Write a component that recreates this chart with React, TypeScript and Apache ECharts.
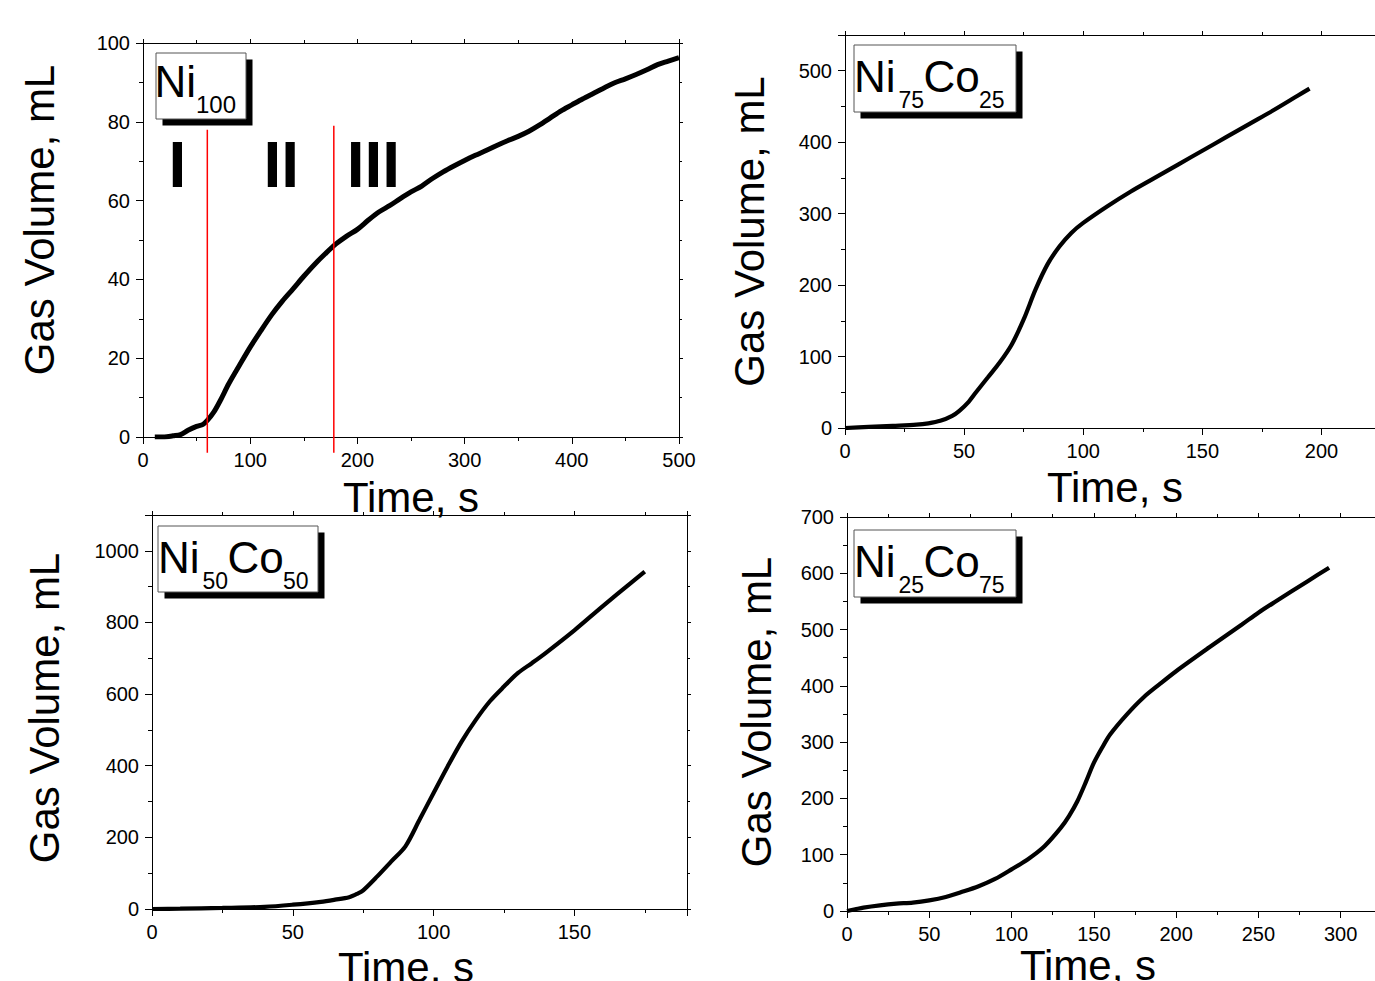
import React, { useEffect, useRef } from "react";
import * as echarts from "echarts";

const FONT = "'Liberation Sans', Arial, Helvetica, sans-serif";

// ---------- Panel 1: Ni100 ----------
const ni100Time = [11, 20, 28, 35, 42, 50, 56, 60, 66, 72, 80, 90, 100, 110, 120, 130, 140, 150, 160, 170, 180, 190, 200, 210, 220, 230, 240, 250, 260, 270, 280, 290, 300, 310, 320, 330, 340, 350, 360, 370, 380, 390, 400, 410, 420, 430, 440, 450, 460, 470, 480, 490, 500];
const ni100Volume = [0, 0, 0.3, 0.6, 1.7, 2.7, 3.2, 4.2, 6.3, 9.2, 13.5, 18.2, 22.8, 27, 31, 34.5, 37.6, 40.8, 43.8, 46.5, 49, 51, 52.7, 55, 57.1, 58.7, 60.5, 62.2, 63.7, 65.6, 67.3, 68.8, 70.2, 71.5, 72.7, 74, 75.2, 76.3, 77.6, 79.2, 81, 82.8, 84.3, 85.8, 87.2, 88.6, 89.9, 90.9, 92, 93.2, 94.5, 95.4, 96.3];
const stageBoundaryTime = [60, 178];
const stageBoundaryTop = [78, 79];
const stageBoundaryBottom = -4;
const stageLabels = ["I", "II", "III"];
const stageLabelTime = [32, 129, 215];
const stageLabelVolume = 69;

// ---------- Panel 2: Ni75Co25 ----------
const ni75Time = [0, 10, 20, 30, 35, 40, 45, 48, 52, 55, 60, 65, 70, 75, 80, 85, 90, 95, 100, 110, 120, 130, 140, 150, 160, 170, 180, 190, 195];
const ni75Volume = [0, 1.5, 3, 4.6, 6.5, 10, 17, 24, 37, 50, 71, 92, 117, 152, 194, 229, 254, 273, 287, 310, 331, 350, 369, 388, 407, 426, 445, 465, 475];

// ---------- Panel 3: Ni50Co50 ----------
const ni50Time = [0, 10, 25, 40, 50, 60, 65, 70, 73, 75, 80, 85, 90, 95, 100, 105, 110, 115, 120, 125, 130, 135, 140, 150, 160, 170, 175];
const ni50Volume = [0, 1, 3, 6, 12, 20, 26, 33, 43, 52, 91, 133, 175, 249, 324, 398, 468, 528, 580, 621, 659, 687, 716, 778, 845, 910, 942];

// ---------- Panel 4: Ni25Co75 ----------
const ni25Time = [0, 5, 10, 20, 30, 40, 50, 60, 70, 80, 90, 100, 110, 120, 130, 135, 140, 145, 150, 155, 160, 170, 180, 190, 200, 220, 240, 250, 260, 280, 293];
const ni25Volume = [0, 3, 6, 10, 13, 15, 19, 25, 34, 44, 57, 74, 92, 115, 148, 169, 195, 228, 263, 290, 314, 349, 379, 403, 426, 468, 509, 530, 549, 586, 610];

// axis settings per panel
const xMaxes = [500, 225, 190, 330];
const xIntervals = [100, 50, 50, 50];
const yMaxes = [100, 550, 1100, 700];
const yIntervals = [20, 100, 200, 100];

const xTitle = "Time, s";
const yTitle = "Gas Volume, mL";

const zip = (a: number[], b: number[]) => a.map((v, i) => [v, b[i]]);

const grids = [
  { left: 143, top: 43, width: 536, height: 394 },
  { left: 845, top: 35, width: 536, height: 393 },
  { left: 152, top: 515, width: 535, height: 394 },
  { left: 847, top: 517, width: 543, height: 394 },
];

const AX = "#000";
const plainNumber = (v: number) => String(v);

function makeAxes(i: number) {
  const common = { gridIndex: i, type: "value" as const, min: 0 };
  const labelBase = { show: true, margin: 13, fontSize: 20, fontFamily: FONT, color: "#000", formatter: plainNumber, showMinLabel: true };
  const xb = {
    ...common,
    max: xMaxes[i],
    interval: xIntervals[i],
    position: "bottom",
    axisLine: { show: true, onZero: false, lineStyle: { color: AX, width: 1 } },
    axisTick: { show: true, inside: false, length: 7, lineStyle: { color: AX, width: 1 } },
    minorTick: { show: true, splitNumber: 2, length: 4, lineStyle: { color: AX, width: 1 } },
    splitLine: { show: false },
    minorSplitLine: { show: false },
    axisLabel: { ...labelBase, showMaxLabel: xMaxes[i] % xIntervals[i] === 0 },
  };
  const xt = {
    ...common,
    max: xMaxes[i],
    interval: xIntervals[i],
    position: "top",
    axisLine: { show: true, onZero: false, lineStyle: { color: AX, width: 1 } },
    axisTick: { show: true, inside: false, length: 4, lineStyle: { color: AX, width: 1 } },
    minorTick: { show: true, splitNumber: 2, length: 3, lineStyle: { color: AX, width: 1 } },
    splitLine: { show: false },
    axisLabel: { show: false },
  };
  const yl = {
    ...common,
    max: yMaxes[i],
    interval: yIntervals[i],
    position: "left",
    axisLine: { show: true, onZero: false, lineStyle: { color: AX, width: 1 } },
    axisTick: { show: true, inside: false, length: 7, lineStyle: { color: AX, width: 1 } },
    minorTick: { show: true, splitNumber: 2, length: 4, lineStyle: { color: AX, width: 1 } },
    splitLine: { show: false },
    minorSplitLine: { show: false },
    axisLabel: { ...labelBase, showMaxLabel: yMaxes[i] % yIntervals[i] === 0 },
  };
  const yr = {
    ...common,
    max: yMaxes[i],
    interval: yIntervals[i],
    position: "right",
    axisLine: { show: true, onZero: false, lineStyle: { color: AX, width: 1 } },
    axisTick: { show: true, inside: false, length: 4, lineStyle: { color: AX, width: 1 } },
    minorTick: { show: true, splitNumber: 2, length: 3, lineStyle: { color: AX, width: 1 } },
    splitLine: { show: false },
    axisLabel: { show: false },
  };
  return { x: [xb, xt], y: [yl, yr] };
}

type Part = { text: string; dx: number; dy: number; size: number };
function legendBox(bx: number, by: number, w: number, h: number, parts: Part[]) {
  const children: any[] = [
    { type: "rect", shape: { x: bx + 6.5, y: by + 6.5, width: w, height: h }, style: { fill: "#000" } },
    { type: "rect", shape: { x: bx, y: by, width: w, height: h }, style: { fill: "#fff", stroke: "#555", lineWidth: 1 } },
  ];
  parts.forEach((p) => {
    children.push({
      type: "text",
      x: bx + p.dx,
      y: by + p.dy,
      style: {
        text: p.text,
        fontSize: p.size,
        fontFamily: FONT,
        fill: "#000",
        align: "left",
        verticalAlign: "middle",
        textAlign: "left",
        textVerticalAlign: "middle",
      },
    });
  });
  return { type: "group", children };
}

function coPartsFor(a: string, b: string): Part[] {
  return [
    { text: "Ni", dx: 0, dy: 31, size: 44 },
    { text: a, dx: 44.5, dy: 54.5, size: 23 },
    { text: "Co", dx: 69.5, dy: 31, size: 44 },
    { text: b, dx: 125, dy: 54.5, size: 23 },
  ];
}

function titleText(text: string, x: number, y: number, rotate: boolean) {
  return {
    type: "text",
    x,
    y,
    rotation: rotate ? Math.PI / 2 : 0,
    style: {
      text,
      fontSize: 42,
      fontFamily: FONT,
      fill: "#000",
      align: "center",
      verticalAlign: "middle",
      textAlign: "center",
      textVerticalAlign: "middle",
    },
  };
}

export default function App() {
  const ref = useRef<HTMLDivElement>(null);

  useEffect(() => {
    if (!ref.current) return;
    const chart = echarts.init(ref.current, null, { renderer: "svg" });

    const xAxis: any[] = [];
    const yAxis: any[] = [];
    for (let i = 0; i < 4; i++) {
      const a = makeAxes(i);
      xAxis.push(...a.x);
      yAxis.push(...a.y);
    }

    const curveSeries = (i: number, data: number[][], width: number) => ({
      type: "line",
      xAxisIndex: 2 * i,
      yAxisIndex: 2 * i,
      data,
      showSymbol: false,
      symbol: "none",
      smooth: 0.3,
      lineStyle: { color: "#000", width },
      silent: true,
      z: 3,
    });

    const series: any[] = [
      curveSeries(0, zip(ni100Time, ni100Volume), 5),
      curveSeries(1, zip(ni75Time, ni75Volume), 4.2),
      curveSeries(2, zip(ni50Time, ni50Volume), 4.2),
      curveSeries(3, zip(ni25Time, ni25Volume), 4.2),
      ...stageBoundaryTime.map((t, k) => ({
        type: "line",
        xAxisIndex: 0,
        yAxisIndex: 0,
        data: [
          [t, stageBoundaryBottom],
          [t, stageBoundaryTop[k]],
        ],
        clip: false,
        showSymbol: false,
        symbol: "none",
        lineStyle: { color: "#ff0000", width: 1.5 },
        silent: true,
        z: 4,
      })),
      {
        type: "scatter",
        xAxisIndex: 0,
        yAxisIndex: 0,
        symbolSize: 1,
        itemStyle: { color: "rgba(0,0,0,0)", opacity: 1 },
        silent: true,
        data: stageLabelTime.map((t, k) => ({
          value: [t, stageLabelVolume],
          label: { formatter: stageLabels[k] },
        })),
        label: {
          show: true,
          position: "inside",
          fontSize: 64,
          fontWeight: "bold",
          fontFamily: FONT,
          color: "#000",
          opacity: 1,
        },
        labelLayout: { hideOverlap: false },
        z: 5,
      },
    ];

    const graphic: any[] = [
      titleText(yTitle, 39.5, 220, true),
      titleText(yTitle, 749.5, 231.5, true),
      titleText(yTitle, 44, 708, true),
      titleText(yTitle, 756, 712, true),
      titleText(xTitle, 411, 497, false),
      titleText(xTitle, 1115, 487, false),
      titleText(xTitle, 406, 967, false),
      titleText(xTitle, 1088, 965, false),
      legendBox(156, 53, 90, 66, [
        { text: "Ni", dx: -1.5, dy: 28.3, size: 44 },
        { text: "100", dx: 40, dy: 51.5, size: 24 },
      ]),
      legendBox(854, 45, 162, 67, coPartsFor("75", "25")),
      legendBox(158, 526, 160, 66, coPartsFor("50", "50")),
      legendBox(854, 530, 162, 67, coPartsFor("25", "75")),
    ];

    chart.setOption({
      animation: false,
      backgroundColor: "#fff",
      grid: grids.map((g) => ({ ...g, containLabel: false, outerBoundsMode: "none", show: false })),
      xAxis,
      yAxis,
      series,
      graphic,
    });

    return () => chart.dispose();
  }, []);

  return (
    <div
      ref={ref}
      style={{ position: "absolute", left: 0, top: 0, width: 1375, height: 981, background: "#fff", overflow: "hidden" }}
    />
  );
}
